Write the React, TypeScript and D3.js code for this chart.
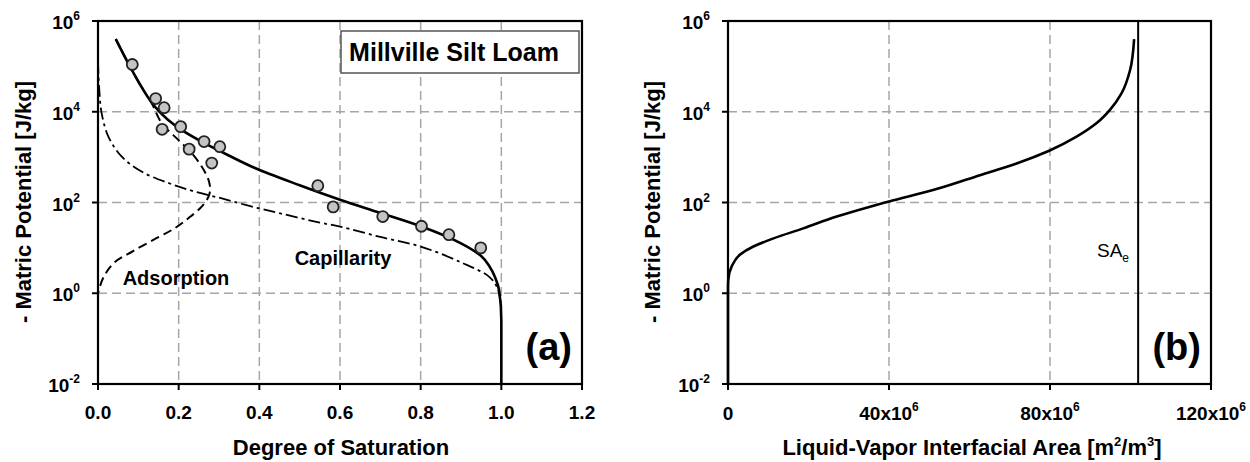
import React from "react";
import * as d3 from "d3";

// axis ticks
const satTicks = [0, 0.2, 0.4, 0.6, 0.8, 1.0, 1.2];
const psiExps = [-2, 0, 2, 4, 6];
const areaTicks = [0, 40, 80, 120]; // x10^6

// measured points (Millville silt loam)
const obsSat = [0.085, 0.143, 0.164, 0.159, 0.205, 0.226, 0.263, 0.302, 0.282, 0.545, 0.583, 0.706, 0.802, 0.87, 0.949];
const obsPsi = [1.1e5, 1.95e4, 1.23e4, 4.1e3, 4.7e3, 1.5e3, 2.2e3, 1.7e3, 740, 235, 80, 49, 30, 19.5, 10];

// total fitted curve
const totSat = [0.044, 0.075, 0.108, 0.141, 0.174, 0.207, 0.257, 0.323, 0.389, 0.5, 0.6, 0.7, 0.8, 0.9, 0.95, 0.97, 0.985, 0.995, 1.0, 1.0];
const totPsi = [4e5, 1.17e5, 3.5e4, 1.3e4, 6.6e3, 4e3, 2.2e3, 1.1e3, 575, 240, 115, 59, 30, 12.6, 6.6, 4, 2.2, 1.1, 0.25, 0.01];

// adsorption component
const adsSat = [0.044, 0.075, 0.108, 0.133, 0.158, 0.199, 0.232, 0.257, 0.274, 0.278, 0.274, 0.257, 0.224, 0.19, 0.146, 0.087, 0.04, 0.013, 0.0];
const adsPsi = [4e5, 1.17e5, 3.5e4, 1.55e4, 5.6e3, 2.4e3, 1.23e3, 620, 316, 190, 135, 81, 45, 27, 16.6, 8.5, 4.7, 2.2, 1.0];

// capillary component
const capSat = [0.0, 0.003, 0.009, 0.026, 0.059, 0.108, 0.174, 0.24, 0.307, 0.373, 0.45, 0.55, 0.6, 0.7, 0.8, 0.9, 0.97, 0.99, 1.0];
const capPsi = [1.26e5, 3.2e4, 9.3e3, 2.8e3, 1.02e3, 480, 270, 174, 123, 85, 58, 36, 29.5, 17.4, 10.7, 4.8, 2.3, 1.32, 0.5];

// liquid-vapor interfacial area curve (m2/m3, x10^6)
const lvArea = [0, 0, 0.07, 0.92, 2.98, 6.3, 11.3, 18.7, 27, 35.3, 40, 52, 62.6, 71.7, 79.8, 86.6, 91.6, 94.9, 97.8, 99.9, 100.9];
const lvPsi = [0.01, 1.26, 2, 3.9, 7.1, 10.7, 16.2, 26.9, 49, 81, 105, 200, 400, 724, 1380, 2820, 5620, 1.1e4, 2.57e4, 8.3e4, 4e5];
const saeArea = 101.9;

const FONT = "Liberation Sans, Arial, sans-serif";
const TOP = 21;
const BOTTOM = 384;

const y = d3.scaleLog().domain([1e-2, 1e6]).range([BOTTOM, TOP]);
const xa = d3.scaleLinear().domain([0, 1.2]).range([98, 582]);
const xb = d3.scaleLinear().domain([0, 120]).range([728, 1211]);

const gridStyle = { stroke: "#a6a6a6", strokeWidth: 1.5, strokeDasharray: "9,5" };

function YAxis({ x0, x1, labelX }: { x0: number; x1: number; labelX: number }) {
  return (
    <g>
      {psiExps.map((e) => {
        const yy = y(Math.pow(10, e));
        return (
          <g key={e}>
            {e > -2 && e < 6 && <line x1={x0} x2={x1} y1={yy} y2={yy} {...gridStyle} />}
            <line x1={x0 - 6} x2={x0} y1={yy} y2={yy} stroke="#000" strokeWidth={2} />
            <text x={x0 - 18} y={yy + 8} textAnchor="end" fontSize={19} fontWeight="bold" fontFamily={FONT}>
              10<tspan dy={-9} fontSize={12}>{e}</tspan>
            </text>
          </g>
        );
      })}
      <text
        transform={`translate(${labelX},202) rotate(-90)`}
        textAnchor="middle"
        fontSize={22}
        fontWeight="bold"
        fontFamily={FONT}
      >
        - Matric Potential [J/kg]
      </text>
    </g>
  );
}

export default function App() {
  const lineA = d3
    .line<[number, number]>()
    .x((d) => xa(d[0]))
    .y((d) => y(d[1]))
    .curve(d3.curveCatmullRom.alpha(0.5));
  const lineAmono = d3
    .line<[number, number]>()
    .x((d) => xa(d[0]))
    .y((d) => y(d[1]))
    .curve(d3.curveMonotoneY);
  const lineB = d3
    .line<[number, number]>()
    .x((d) => xb(d[0]))
    .y((d) => y(d[1]))
    .curve(d3.curveMonotoneY);

  const tot = totSat.map((s, i) => [s, totPsi[i]] as [number, number]);
  const ads = adsSat.map((s, i) => [s, adsPsi[i]] as [number, number]);
  const cap = capSat.map((s, i) => [s, capPsi[i]] as [number, number]);
  // order by screen y (top to bottom) for the monotone curve
  const lv = lvArea.map((a, i) => [a, lvPsi[i]] as [number, number]).reverse();

  return (
    <svg width={1250} height={462} style={{ position: "absolute", left: 0, top: 0, background: "#fff" }}>
      {/* ---- panel (a) ---- */}
      <g>
        {satTicks.map((t, i) => (
          <g key={t}>
            {i > 0 && i < satTicks.length - 1 && (
              <line x1={xa(t)} x2={xa(t)} y1={TOP} y2={BOTTOM} {...gridStyle} />
            )}
            <line x1={xa(t)} x2={xa(t)} y1={BOTTOM} y2={BOTTOM + 6} stroke="#000" strokeWidth={2} />
            <text x={xa(t)} y={BOTTOM + 35} textAnchor="middle" fontSize={19} fontWeight="bold" fontFamily={FONT}>
              {t.toFixed(1)}
            </text>
          </g>
        ))}
        <YAxis x0={xa(0)} x1={xa(1.2)} labelX={31} />
        <rect x={341} y={31} width={238} height={42} fill="#fff" stroke="#555" strokeWidth={1.5} />
        <text x={454} y={61} textAnchor="middle" fontSize={25} fontWeight="bold" fontFamily={FONT}>
          Millville Silt Loam
        </text>
        <path d={lineA(cap) || ""} fill="none" stroke="#000" strokeWidth={1.8} strokeDasharray="12,4,3,4" />
        <path d={lineA(ads) || ""} fill="none" stroke="#000" strokeWidth={2} strokeDasharray="9,5" />
        <path d={lineAmono(tot) || ""} fill="none" stroke="#000" strokeWidth={2.6} />
        {obsSat.map((s, i) => (
          <circle key={i} cx={xa(s)} cy={y(obsPsi[i])} r={5.5} fill="#c4c4c4" stroke="#222" strokeWidth={1.8} />
        ))}
        <text x={176} y={285} textAnchor="middle" fontSize={20} fontWeight="bold" fontFamily={FONT}>
          Adsorption
        </text>
        <text x={343} y={265} textAnchor="middle" fontSize={20} fontWeight="bold" fontFamily={FONT}>
          Capillarity
        </text>
        <text x={572} y={360} textAnchor="end" fontSize={38} fontWeight="bold" fontFamily={FONT}>
          (a)
        </text>
        <rect x={xa(0)} y={TOP} width={xa(1.2) - xa(0)} height={BOTTOM - TOP} fill="none" stroke="#000" strokeWidth={2.2} />
        <text x={341} y={455} textAnchor="middle" fontSize={22} fontWeight="bold" fontFamily={FONT}>
          Degree of Saturation
        </text>
      </g>

      {/* ---- panel (b) ---- */}
      <g>
        {areaTicks.map((t, i) => (
          <g key={t}>
            {i > 0 && i < areaTicks.length - 1 && (
              <line x1={xb(t)} x2={xb(t)} y1={TOP} y2={BOTTOM} {...gridStyle} />
            )}
            <line x1={xb(t)} x2={xb(t)} y1={BOTTOM} y2={BOTTOM + 6} stroke="#000" strokeWidth={2} />
            <text x={xb(t)} y={BOTTOM + 36} textAnchor="middle" fontSize={19} fontWeight="bold" fontFamily={FONT}>
              {t === 0 ? (
                "0"
              ) : (
                <>
                  {t}x10<tspan dy={-9} fontSize={12}>6</tspan>
                </>
              )}
            </text>
          </g>
        ))}
        <YAxis x0={xb(0)} x1={xb(120)} labelX={660} />
        <path d={lineB(lv) || ""} fill="none" stroke="#000" strokeWidth={2.6} />
        <line x1={xb(saeArea)} x2={xb(saeArea)} y1={TOP} y2={BOTTOM} stroke="#000" strokeWidth={2} />
        <text x={1097} y={257} fontSize={19} fontFamily={FONT}>
          SA<tspan dy={5} fontSize={12}>e</tspan>
        </text>
        <text x={1201} y={360} textAnchor="end" fontSize={38} fontWeight="bold" fontFamily={FONT}>
          (b)
        </text>
        <rect x={xb(0)} y={TOP} width={xb(120) - xb(0)} height={BOTTOM - TOP} fill="none" stroke="#000" strokeWidth={2.2} />
        <text x={972} y={455} textAnchor="middle" fontSize={22} fontWeight="bold" fontFamily={FONT}>
          Liquid-Vapor Interfacial Area [m<tspan dy={-9} fontSize={13}>2</tspan>
          <tspan dy={9}>/m</tspan>
          <tspan dy={-9} fontSize={13}>3</tspan>
          <tspan dy={9}>]</tspan>
        </text>
      </g>
    </svg>
  );
}
